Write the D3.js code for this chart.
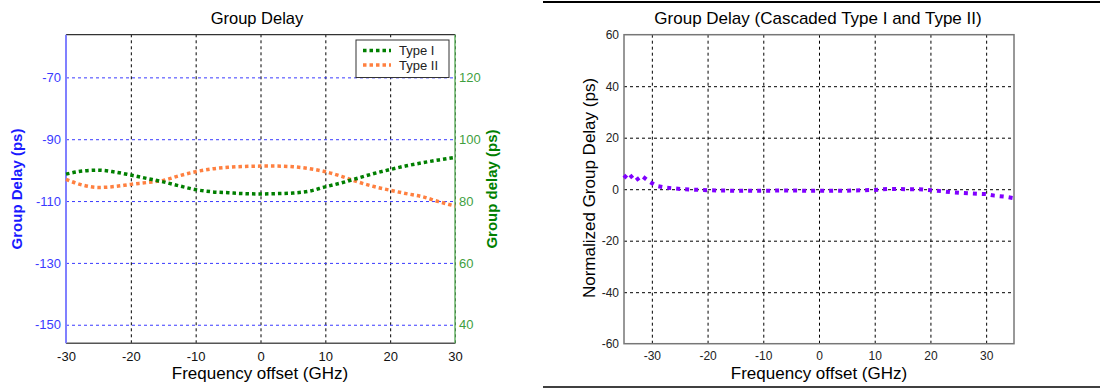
<!DOCTYPE html>
<html><head><meta charset="utf-8">
<script src="https://cdn.jsdelivr.net/npm/d3@7"></script>
<style>
html,body{margin:0;padding:0;background:#fff;}
svg{display:block;font-family:"Liberation Sans",Arial,sans-serif;}
</style></head>
<body>
<svg id="c" width="1100" height="388"></svg>
<script>
// ---- Data ----
const freqLeft = [-30,-27.5,-25,-22.5,-20,-17.5,-15,-12.5,-10,-7.5,-5,-2.5,0,2.5,5,7.5,10,12.5,15,17.5,20,22.5,25,27.5,30];
const typeI  = [88.7,89.7,90.0,89.4,88.4,87.3,86.2,84.9,83.7,83.0,82.7,82.4,82.3,82.4,82.6,83.2,84.6,85.9,87.4,88.9,90.2,91.4,92.4,93.3,94.1];
const typeII = [-103.0,-104.8,-105.6,-105.3,-104.6,-104.0,-103.3,-101.8,-100.5,-99.6,-99.1,-98.8,-98.7,-98.7,-98.9,-99.5,-100.5,-102.0,-103.8,-105.3,-106.5,-107.6,-108.6,-110.2,-111.6];
const freqRight = [-35,-34.2,-33,-31.8,-30.5,-29.2,-27.5,-24.3,-21,-18,-15,-12,-10,-7,-5,-2,0,3,5,8,10,12.4,15.7,18,20.8,23.9,27.1,30,31.5,33.4,35];
const cascaded  = [4.3,6.2,3.2,5.2,3.0,1.3,0.6,0.0,-0.3,-0.5,-0.6,-0.6,-0.6,-0.5,-0.5,-0.6,-0.6,-0.6,-0.6,-0.4,-0.3,0.1,0.0,0.0,-0.5,-1.2,-1.6,-1.9,-2.5,-2.9,-3.5];
const xTicksLeft = [-30,-20,-10,0,10,20,30];
const yTicksLeft = [-150,-130,-110,-90,-70];
const yTicksRight2 = [40,60,80,100,120];
const xTicksRight = [-30,-20,-10,0,10,20,30];
const yTicksRight = [-60,-40,-20,0,20,40,60];

const fmt = d => String(d);
const svg = d3.select("#c");

// ================= LEFT CHART =================
const L = {l:66, r:455, t:34.7, b:343.3};
const x1 = d3.scaleLinear().domain([-30,30]).range([L.l,L.r]);
const yL = d3.scaleLinear().domain([-156,-56.2]).range([L.b,L.t]);
const yR = d3.scaleLinear().domain([34,133.8]).range([L.b,L.t]);

const g1 = svg.append("g");
g1.append("rect").attr("x",L.l).attr("y",L.t).attr("width",L.r-L.l).attr("height",L.b-L.t).attr("fill","#fff");

g1.append("g").attr("transform",`translate(0,${L.b})`)
  .call(d3.axisBottom(x1).tickValues(xTicksLeft).tickSize(-(L.b-L.t)).tickFormat(""))
  .call(g=>g.select(".domain").remove())
  .call(g=>g.selectAll("line").attr("stroke","#000").attr("stroke-width",1).attr("stroke-dasharray","3,3"));
g1.append("g").attr("transform",`translate(${L.l},0)`)
  .call(d3.axisLeft(yL).tickValues(yTicksLeft).tickSize(-(L.r-L.l)).tickFormat(""))
  .call(g=>g.select(".domain").remove())
  .call(g=>g.selectAll("line").attr("stroke","#3a3aff").attr("stroke-width",1).attr("stroke-dasharray","3,3"));

g1.append("line").attr("x1",L.l).attr("x2",L.r).attr("y1",L.t).attr("y2",L.t).attr("stroke","#333").attr("stroke-width",1.2);
g1.append("line").attr("x1",L.l).attr("x2",L.r).attr("y1",L.b).attr("y2",L.b).attr("stroke","#555").attr("stroke-width",1.5);
g1.append("line").attr("x1",L.l).attr("x2",L.l).attr("y1",L.t).attr("y2",L.b).attr("stroke","#8080ff").attr("stroke-width",2);
g1.append("line").attr("x1",L.r).attr("x2",L.r).attr("y1",L.t).attr("y2",L.b).attr("stroke","#66b366").attr("stroke-width",1.5);

const ax1 = g1.append("g").attr("transform",`translate(0,${L.b})`)
  .call(d3.axisBottom(x1).tickValues(xTicksLeft).tickSize(0).tickPadding(8).tickFormat(fmt));
ax1.select(".domain").remove();
ax1.selectAll("text").attr("fill","#111").attr("font-size",13).attr("font-family","Liberation Sans, Arial");

const ayL = g1.append("g").attr("transform",`translate(${L.l},0)`)
  .call(d3.axisLeft(yL).tickValues(yTicksLeft).tickSize(0).tickPadding(5).tickFormat(fmt));
ayL.select(".domain").remove();
ayL.selectAll("text").attr("fill","#3a3aff").attr("font-size",13).attr("font-family","Liberation Sans, Arial");

const ayR = g1.append("g").attr("transform",`translate(${L.r},0)`)
  .call(d3.axisRight(yR).tickValues(yTicksRight2).tickSize(0).tickPadding(4).tickFormat(fmt));
ayR.select(".domain").remove();
ayR.selectAll("text").attr("fill","#3f9f3f").attr("font-size",13).attr("font-family","Liberation Sans, Arial");

const lineI = d3.line().x((d,i)=>x1(freqLeft[i])).y(d=>yR(d)).curve(d3.curveMonotoneX);
const lineII = d3.line().x((d,i)=>x1(freqLeft[i])).y(d=>yL(d)).curve(d3.curveMonotoneX);
g1.append("path").attr("d",lineII(typeII)).attr("fill","none").attr("stroke","#ff8040").attr("stroke-width",3.5).attr("stroke-dasharray","3.5,3");
g1.append("path").attr("d",lineI(typeI)).attr("fill","none").attr("stroke","#007f00").attr("stroke-width",3.5).attr("stroke-dasharray","3.5,3");

const lg = g1.append("g");
lg.append("rect").attr("x",356).attr("y",40).attr("width",93).attr("height",37.5).attr("fill","#fff").attr("stroke","#333").attr("stroke-width",1);
const legItems = [["Type I","#007f00"],["Type II","#ff8040"]];
legItems.forEach((it,i)=>{
  const yy = 50.5 + i*14.5;
  lg.append("line").attr("x1",363).attr("x2",391).attr("y1",yy).attr("y2",yy).attr("stroke",it[1]).attr("stroke-width",3.5).attr("stroke-dasharray","3.5,3");
  lg.append("text").attr("x",399).attr("y",yy+4.5).attr("font-size",13).attr("fill","#222").text(it[0]);
});

g1.append("text").attr("x",257).attr("y",24).attr("text-anchor","middle").attr("font-size",16.5).attr("fill","#000").text("Group Delay");
g1.append("text").attr("x",260).attr("y",379).attr("text-anchor","middle").attr("font-size",17).attr("fill","#000").text("Frequency offset (GHz)");
g1.append("text").attr("transform","translate(22,189) rotate(-90)").attr("text-anchor","middle").attr("font-size",15).attr("font-weight","bold").attr("fill","#1a1aff").text("Group Delay (ps)");
g1.append("text").attr("transform","translate(497,189) rotate(-90)").attr("text-anchor","middle").attr("font-size",15).attr("font-weight","bold").attr("fill","#008000").text("Group delay (ps)");

// ================= RIGHT CHART =================
const R = {l:624, r:1014, t:34.7, b:343.7};
const x2 = d3.scaleLinear().domain([-35,35]).range([R.l,R.r]);
const y2 = d3.scaleLinear().domain([-60,60]).range([R.b,R.t]);
const g2 = svg.append("g");

g2.append("line").attr("x1",543).attr("x2",1100).attr("y1",2).attr("y2",2).attr("stroke","#000").attr("stroke-width",2);
g2.append("line").attr("x1",543).attr("x2",1100).attr("y1",387).attr("y2",387).attr("stroke","#000").attr("stroke-width",1.5);

g2.append("rect").attr("x",R.l).attr("y",R.t).attr("width",R.r-R.l).attr("height",R.b-R.t).attr("fill","#fff");

g2.append("g").attr("transform",`translate(0,${R.b})`)
  .call(d3.axisBottom(x2).tickValues(xTicksRight).tickSize(-(R.b-R.t)).tickFormat(""))
  .call(g=>g.select(".domain").remove())
  .call(g=>g.selectAll("line").attr("stroke","#000").attr("stroke-width",1).attr("stroke-dasharray","3,3"));
g2.append("g").attr("transform",`translate(${R.l},0)`)
  .call(d3.axisLeft(y2).tickValues(yTicksRight.filter(v=>v>-60&&v<60)).tickSize(-(R.r-R.l)).tickFormat(""))
  .call(g=>g.select(".domain").remove())
  .call(g=>g.selectAll("line").attr("stroke","#000").attr("stroke-width",1).attr("stroke-dasharray","3,3"));

g2.append("rect").attr("x",R.l).attr("y",R.t).attr("width",R.r-R.l).attr("height",R.b-R.t).attr("fill","none").attr("stroke","#777").attr("stroke-width",1.5);

const bx2 = g2.append("g").attr("transform",`translate(0,${R.b})`)
  .call(d3.axisBottom(x2).tickValues(xTicksRight).tickSize(0).tickPadding(8).tickFormat(fmt));
bx2.select(".domain").remove();
bx2.selectAll("text").attr("fill","#222").attr("font-size",12).attr("font-family","Liberation Sans, Arial");
const by2 = g2.append("g").attr("transform",`translate(${R.l},0)`)
  .call(d3.axisLeft(y2).tickValues(yTicksRight).tickSize(0).tickPadding(5).tickFormat(fmt));
by2.select(".domain").remove();
by2.selectAll("text").attr("fill","#222").attr("font-size",12).attr("font-family","Liberation Sans, Arial");

const lineC = d3.line().x((d,i)=>x2(freqRight[i])).y(d=>y2(d)).curve(d3.curveLinear);
g2.append("path").attr("d",lineC(cascaded)).attr("fill","none").attr("stroke","#8000ff").attr("stroke-width",4).attr("stroke-dasharray","4,5");

g2.append("text").attr("x",818).attr("y",24).attr("text-anchor","middle").attr("font-size",17).attr("fill","#000").text("Group Delay (Cascaded Type I and Type II)");
g2.append("text").attr("x",819).attr("y",379).attr("text-anchor","middle").attr("font-size",17).attr("fill","#000").text("Frequency offset (GHz)");
g2.append("text").attr("transform","translate(595,188) rotate(-90)").attr("text-anchor","middle").attr("font-size",17).attr("fill","#000").text("Normalized Group Delay (ps)");
</script>
</body></html>
